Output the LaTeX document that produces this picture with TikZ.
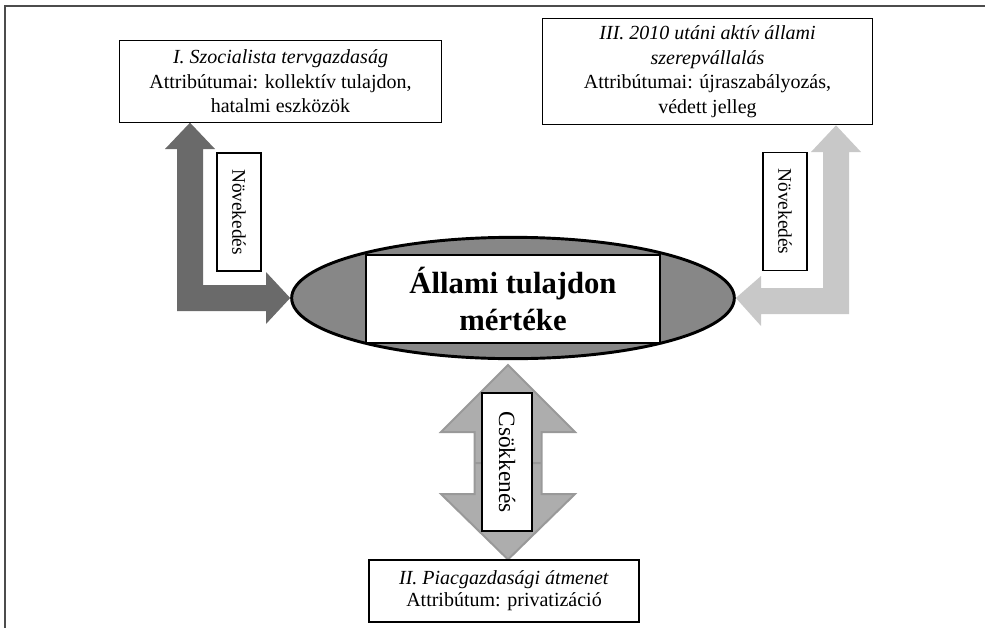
\documentclass[tikz,border=0pt]{standalone}
\usepackage{fontspec}
\setmainfont{Liberation Serif}
\usetikzlibrary{calc,positioning,shapes.geometric,backgrounds}
\definecolor{sotet}{HTML}{6A6A6A}
\definecolor{vilagos}{HTML}{C8C8C8}
\definecolor{kozep}{HTML}{ADADAD}
\definecolor{kozepkeret}{HTML}{999999}
\definecolor{ellip}{HTML}{878787}

\begin{document}
\begin{tikzpicture}[x=0.75pt,y=-0.75pt,
                phase/.style={draw,line width=0.8pt,fill=white,align=center,inner sep=2pt,
                        font=\fontsize{15}{18.4}\selectfont},
                tag/.style={draw,line width=0.8pt,fill=white,rotate=-90,inner sep=1pt,
                        minimum width=#1,font=\fontsize{14.5}{17.6}\selectfont},
                barrow/.style={fill=#1,draw=none}]
            \useasboundingbox (0,0) rectangle (985,628);
            \draw[line width=1.5pt,gray!60!black] (5,628) -- (5,6) -- (985,6);
            % allami tulajdon
            \node[ellipse,draw,line width=2.2pt,fill=ellip,minimum width=332pt,minimum height=91pt,
                inner sep=0pt] (allam) at (513,298) {};
            \node[draw,line width=0.8pt,fill=white,minimum width=220.5pt,minimum height=66pt,
                align=center,font=\bfseries\fontsize{23}{27.8}\selectfont] (allamtxt) at (513,299)
                {Állami tulajdon\\ mértéke};
            % korszakok
            \node[phase,minimum width=242pt,minimum height=61pt] (szoc) at (280.5,81.5)
                {\textit{I. Szocialista tervgazdaság}\\ Attribútumai: kollektív tulajdon,\\ hatalmi eszközök};
            \node[phase,minimum width=247pt,minimum height=80pt] (aktiv) at (707.5,71.5)
                {\textit{III. 2010 utáni aktív állami}\\ \textit{szerepvállalás}\\ Attribútumai: újraszabályozás,\\ védett jelleg};
            \node[phase,minimum width=202.5pt,minimum height=46.5pt,
                font=\fontsize{15}{16.5}\selectfont] (piac) at (504,591)
                {\textit{II. Piacgazdasági átmenet}\\ Attribútum: privatizáció};
            % cimkek
            \node[tag=88.5pt,minimum height=33pt] (nov1) at (239,212) {Növekedés};
            \node[tag=89pt,minimum height=33pt] (nov2) at (785,211.5) {Növekedés};
            \node[tag=103.5pt,minimum height=37.5pt,font=\fontsize{17.5}{20}\selectfont] (csok) at (507,462) {Csökkenés};
            %
            \begin{scope}[on background layer]
                \fill[barrow=sotet] (allam.west) -- (266,272) -- (266,285) -- (203,285) -- (203,149)
                -- (215,149) -- (szoc.south -| 190,0) -- (165,149) -- (177,149) -- (177,311)
                -- (266,311) -- (266,324) -- cycle;
                \fill[barrow=vilagos] (allam.east) -- (761,276) -- (761,288) -- (823,288) -- (823,152)
                -- (811,152) -- (aktiv.south -| 836,0) -- (861,152) -- (849,152) -- (849,314)
                -- (761,314) -- (761,326) -- cycle;
                \filldraw[fill=kozep,draw=kozepkeret,line width=1.5pt,line join=miter]
                (508,365) -- (575,432) -- (541.5,432) -- (541.5,463) -- (474.5,463) -- (474.5,432)
                -- (441,432) -- cycle
                (piac.north -| 508,0) -- (575,494) -- (541.5,494) -- (541.5,463) -- (474.5,463)
                -- (474.5,494) -- (441,494) -- cycle;
            \end{scope}
        \end{tikzpicture}
\end{document}
